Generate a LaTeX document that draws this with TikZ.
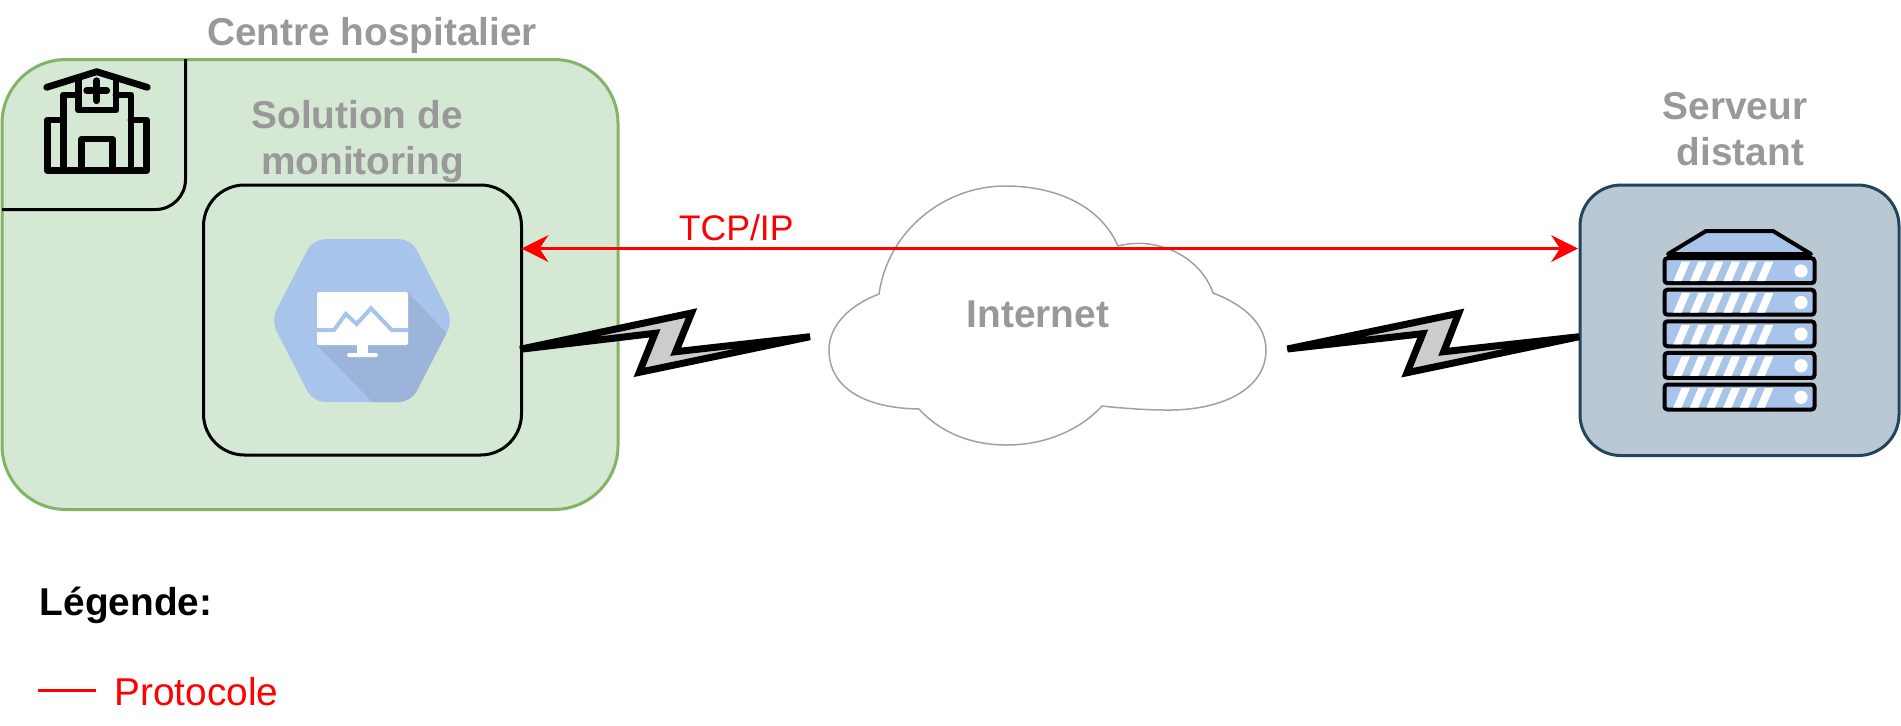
\documentclass[tikz,border=0pt]{standalone}
\usepackage{fontspec}
\setmainfont{Liberation Sans}
\usetikzlibrary{arrows.meta}
\definecolor{greyT}{HTML}{999999}
\definecolor{hexblue}{HTML}{A9C4EB}
\definecolor{hexshade}{HTML}{9DB4DA}
\definecolor{greenF}{HTML}{D5E8D4}
\definecolor{greenD}{HTML}{82B366}
\definecolor{srvF}{HTML}{BAC8D3}
\definecolor{srvD}{HTML}{23445D}
\tikzset{
  x=0.5pt,y=-0.5pt,
  box/.style={draw,outer sep=0pt,inner sep=0pt,line width=1.5pt,rounded corners=20.5pt},
  titletext/.style={text=greyT,font=\fontsize{19.4}{22.9}\selectfont\bfseries,align=center,inner sep=0pt,anchor=base},
  redtext/.style={text=red,inner sep=0pt,anchor=base west},
  protoline/.style={draw=red,line width=1.5pt},
  bolt/.style={draw=black,fill=black!20,line width=3.5pt,miter limit=10,line join=miter},
  hosp/.style={line width=3.4pt,line cap=round,line join=round},
  unitbox/.style={draw=black,fill=hexblue,line width=2pt,rounded corners=1.5pt},
}
\begin{document}
\begin{tikzpicture}
\useasboundingbox (0,0) rectangle (1901,725);
% hospital area
\node[box,fill=greenF,draw=greenD,minimum width=308pt,minimum height=225pt,rounded corners=32pt] (hospital) at (310,284.5) {};
\draw[line width=1.5pt,rounded corners=15pt] (185.5,59) -- (185.5,209.5) -- (2,209.5);
% hospital icon
\draw[hosp] (46.7,87.3) -- (96.7,71.7) -- (147.3,87.3);
\draw[hosp] (78.3,80) -- (78.3,110) -- (116,110) -- (116,80);
\draw[hosp] (86.7,90.7) -- (106.7,90.7) (96.7,80.7) -- (96.7,100.7);
\draw[hosp] (78.3,95) -- (63.3,95) -- (63.3,168) (116,95) -- (131,95) -- (131,168);
\draw[hosp] (63.3,120) -- (47.3,120) -- (47.3,170.7) -- (146.7,170.7) -- (146.7,120) -- (131,120);
\draw[hosp] (81.7,170) -- (81.7,139) -- (112.3,139) -- (112.3,170);
% monitoring box
\node[box,fill=greenF,minimum width=159pt,minimum height=135pt] (monitor) at (362.5,320) {};
\fill[hexblue,rounded corners=6pt] (313,239) -- (411,239) -- (453,320.5) -- (411,402) -- (313,402) -- (271,320.5) -- cycle;
\begin{scope}
\clip[rounded corners=6pt] (313,239) -- (411,239) -- (453,320.5) -- (411,402) -- (313,402) -- (271,320.5) -- cycle;
\fill[hexshade] (408,292) -- (460,348) -- (460,403) -- (373,403) -- (317,345) -- cycle;
\end{scope}
\fill[white,rounded corners=1pt] (317,292) rectangle (408,345);
\fill[white] (357,344) rectangle (368,354);
\fill[white,rounded corners=1pt] (347,353) rectangle (378,357);
\draw[hexblue,line width=2pt] (317,330) -- (334,330) -- (345.7,314) -- (356.7,324) -- (371,308.3) -- (391.7,330) -- (408,330);
% server
\node[box,fill=srvF,draw=srvD,minimum width=159.5pt,minimum height=135.25pt] (server) at (1739.5,320.3) {};
\draw[draw=black,fill=hexblue,line width=2pt,line join=round] (1668,254) -- (1706,231) -- (1773,231) -- (1811,254) -- cycle;
\foreach \t in {258.2,289.7,321.3,352.9,384.5}{
  \draw[unitbox] (1664.5,\t) rectangle (1814.5,\t+25);
  \foreach \k in {0,...,5}{
    \fill[white] (1673.3+16.67*\k,\t+23) -- (1681.6+16.67*\k,\t+3.5) -- (1690+16.67*\k,\t+3.5) -- (1681.6+16.67*\k,\t+23) -- cycle;
  }
  \fill[white] (1801,\t+12.8) circle[radius=3.3pt];
}
% lightning
\draw[bolt] (520,349.3) -- (691.5,313) -- (675.7,351.7) -- (810,336.7) -- (639.3,372.3) -- (655,333.3) -- cycle;
\draw[bolt] (1287.3,349) -- (1458.7,313.3) -- (1443.7,351.7) -- (1579.3,336.7) -- (1407,372.7) -- (1422.7,333.7) -- cycle;
% cloud
\draw[draw=black!37,fill=white,line width=0.75pt,line join=miter] (879,294)
  .. controls (888,230) and (945,186) .. (1005,186)
  .. controls (1055,186) and (1100,205) .. (1118,246)
  .. controls (1155,236) and (1200,255) .. (1213,293)
  .. controls (1245,305) and (1266,325) .. (1266,350)
  .. controls (1266,390) and (1220,411) .. (1165,410)
  .. controls (1145,410) and (1120,408) .. (1102,406)
  .. controls (1080,430) and (1045,445) .. (1007,445)
  .. controls (970,445) and (940,432) .. (919,409)
  .. controls (860,408) and (829,385) .. (829,350)
  .. controls (829,325) and (850,305) .. (879,294) -- cycle;
% protocol arrow
\coordinate (tcpy) at (1000,248.5);
\draw[protoline,{Stealth[length=13.5pt,width=13.5pt,inset=4.5pt,line width=0pt]}-{Stealth[length=13.5pt,width=13.5pt,inset=4.5pt,line width=0pt]},shorten >=1pt] (monitor.east |- tcpy) -- (server.west |- tcpy);
% texts
\node[titletext] (tcentre) at (372,45) {Centre hospitalier};
\node[titletext] (tsol) at (362.5,174) {Solution de\hspace*{5.4pt}\\monitoring};
\node[titletext] (tsrv) at (1740.5,165.7) {Serveur\hspace*{5.4pt}\\distant};
\node[titletext] (tnet) at (1038,327.7) {Internet};
\node[redtext,font=\fontsize{17.8}{21}\selectfont] (ttcp) at (678.4,240) {TCP/IP};
\node[inner sep=0pt,anchor=base west,font=\fontsize{19.4}{23}\selectfont\bfseries] (tleg) at (39.5,615.7) {Légende:};
\node[redtext,font=\fontsize{19.4}{23}\selectfont] (tproto) at (114,705.5) {Protocole};
\coordinate (lega) at (38.3,690.5);
\coordinate (legb) at (96,690.5);
\draw[protoline] (lega) -- (legb);
\end{tikzpicture}
\end{document}
